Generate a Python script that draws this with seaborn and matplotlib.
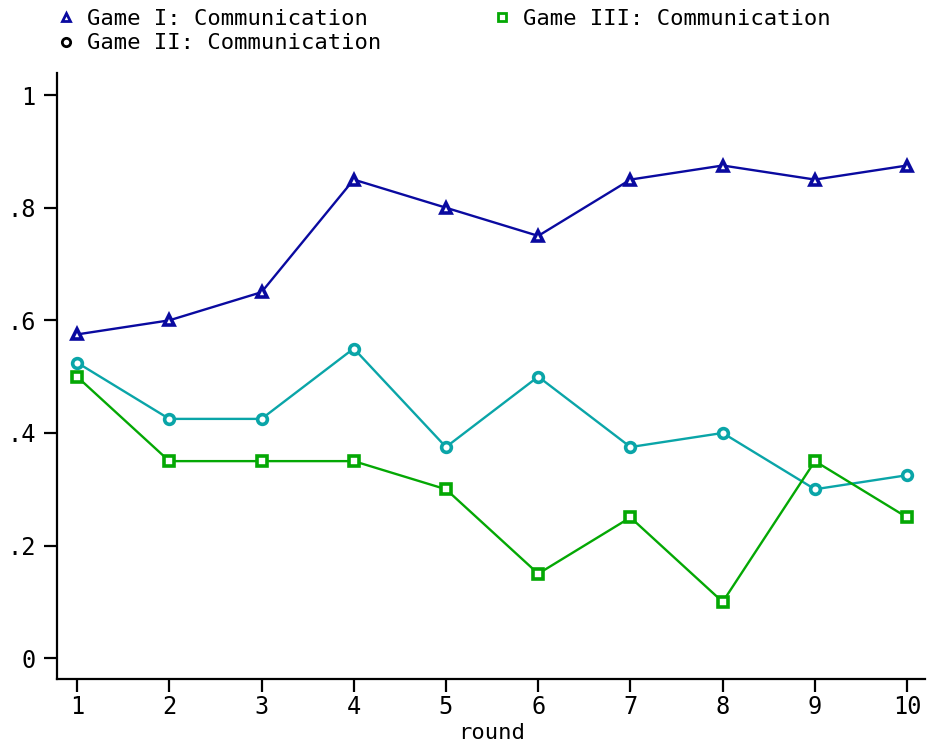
import matplotlib
matplotlib.use("Agg")
import matplotlib.pyplot as plt
from matplotlib.lines import Line2D
import seaborn as sns
import pandas as pd

rounds = [1, 2, 3, 4, 5, 6, 7, 8, 9, 10]
game1 = [0.575, 0.6, 0.65, 0.85, 0.8, 0.75, 0.85, 0.875, 0.85, 0.875]
game2 = [0.525, 0.425, 0.425, 0.55, 0.375, 0.5, 0.375, 0.4, 0.3, 0.325]
game3 = [0.5, 0.35, 0.35, 0.35, 0.3, 0.15, 0.25, 0.1, 0.35, 0.25]
labels = ["Game I: Communication", "Game II: Communication", "Game III: Communication"]
yticks = [0, 0.2, 0.4, 0.6, 0.8, 1]
yticklabels = ["0", ".2", ".4", ".6", ".8", "1"]

colors = ["#0a0aa0", "#0aa5a8", "#04a804"]
markers = ["^", "o", "s"]

sns.set_theme(style="white")
plt.rcParams["font.family"] = ["DejaVu Sans Mono", "DejaVu Sans"]

df = pd.DataFrame({
    "round": rounds * 3,
    "value": game1 + game2 + game3,
    "series": [labels[0]] * 10 + [labels[1]] * 10 + [labels[2]] * 10,
})

fig = plt.figure(figsize=(9.27, 7.48), dpi=100)
ax = fig.add_axes([0.0615, 0.0922, 0.9365, 0.810])

for lab, col, mk in zip(labels, colors, markers):
    sub = df[df["series"] == lab]
    sns.lineplot(data=sub, x="round", y="value", ax=ax, color=col, marker=mk,
                 markersize=7, markeredgewidth=2.6, markeredgecolor=col,
                 markerfacecolor="white", linewidth=1.7, legend=False)

ax.set_xlim(0.783, 10.195)
ax.set_ylim(-0.037, 1.039)
ax.set_xticks(rounds)
ax.set_yticks(yticks)
ax.set_yticklabels(yticklabels)
ax.set_xlabel("round", fontsize=16, labelpad=3, color="black")
ax.set_ylabel("")
ax.tick_params(axis="both", direction="out", length=9.5, width=1.6, colors="black",
               labelsize=17, bottom=True, left=True)
ax.tick_params(axis="x", pad=2)
ax.tick_params(axis="y", pad=6)
for side in ["top", "right"]:
    ax.spines[side].set_visible(False)
for side in ["left", "bottom"]:
    ax.spines[side].set_color("black")
    ax.spines[side].set_linewidth(1.6)

handles = [
    Line2D([], [], linestyle="none", marker="^", markersize=6, markeredgewidth=2,
           markeredgecolor=colors[0], markerfacecolor="white"),
    Line2D([], [], linestyle="none", marker="o", markersize=6, markeredgewidth=2,
           markeredgecolor="black", markerfacecolor="white"),
    Line2D([], [], linestyle="none", marker="s", markersize=6, markeredgewidth=2,
           markeredgecolor=colors[2], markerfacecolor="white"),
]
fig.legend(handles, labels, loc="upper left", bbox_to_anchor=(0.056, 1.0),
           ncol=2, frameon=False, fontsize=16, handlelength=0.5, handletextpad=0.7,
           columnspacing=5.15, labelspacing=0.2, borderaxespad=0,
           labelcolor="black")

fig.savefig("out.png", dpi=100)
